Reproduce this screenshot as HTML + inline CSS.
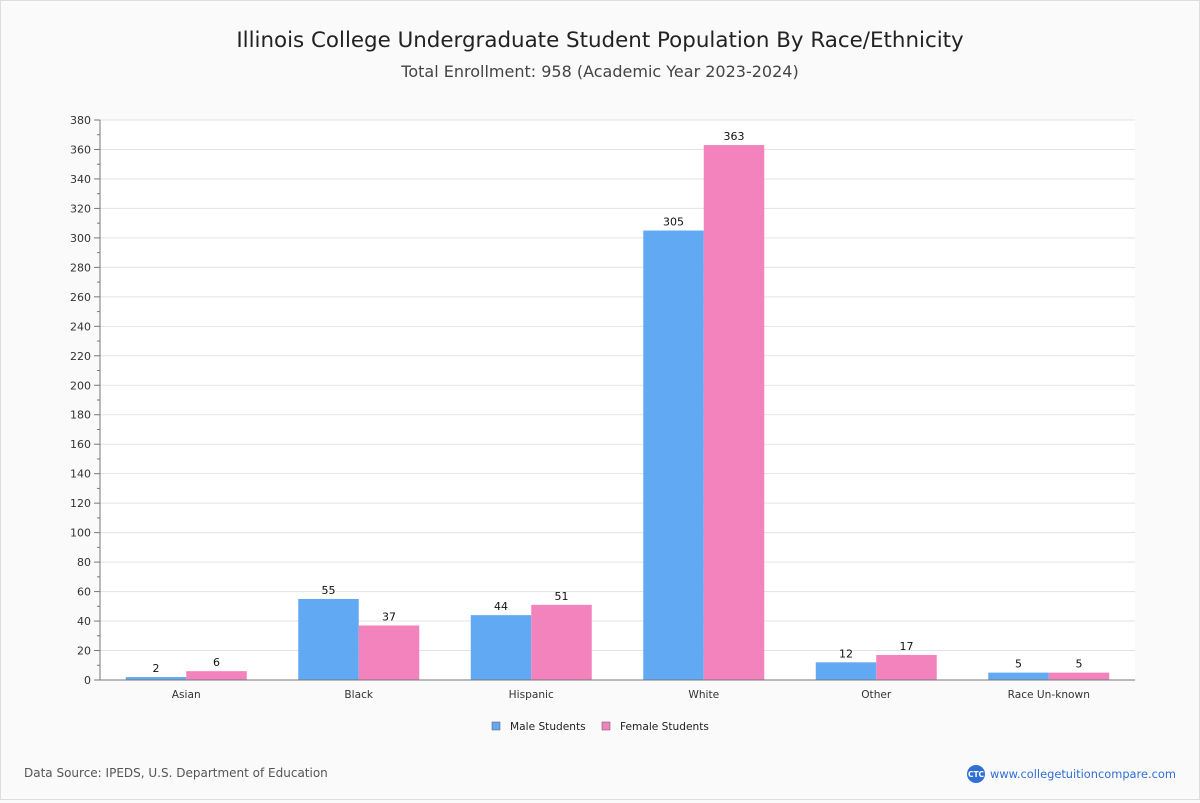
<!DOCTYPE html>
<html><head><meta charset="utf-8"><style>
body{margin:0;background:#fafafa;font-family:"DejaVu Sans","Liberation Sans",sans-serif;}
#wrap{position:relative;width:1198px;height:798px;border:1px solid #ddd;background:#fafafa;}
</style></head><body>
<div id="wrap">
<svg id="c" width="1198" height="798"></svg>
</div>
<script>
const categories=["Asian","Black","Hispanic","White","Other","Race Un-known"];
const maleValues=[2,55,44,305,12,5];
const femaleValues=[6,37,51,363,17,5];
const yTicks=[0,20,40,60,80,100,120,140,160,180,200,220,240,260,280,300,320,340,360,380];
const NS="http://www.w3.org/2000/svg";
const svg=document.getElementById('c');
const X0=99,X1=1134,Y0=679,Y1=119,YMAX=380;
const y=v=>Y0-(v/YMAX)*(Y0-Y1);
const bw=(X1-X0)/categories.length;
const xc=i=>X0+bw*(i+0.5);
function el(t,a,txt){const e=document.createElementNS(NS,t);for(const k in a)e.setAttribute(k,a[k]);if(txt!==undefined)e.textContent=txt;svg.appendChild(e);return e;}
let e;
e=el('text',{x:599,y:46,'text-anchor':'middle','font-size':21.4,fill:'#222'},'Illinois College Undergraduate Student Population By Race/Ethnicity');


e=el('text',{x:599,y:76,'text-anchor':'middle','font-size':16,fill:'#444'},'Total Enrollment: 958 (Academic Year 2023-2024)');


e=el('rect',{x:X0,y:Y1,width:X1-X0,height:Y0-Y1,fill:'#fff'});


yTicks.forEach(t=>{
 e=el('line',{x1:X0,x2:X1,y1:y(t),y2:y(t),stroke:'#e3e3e3'});
 
 
 e=el('line',{x1:X0-6,x2:X0,y1:y(t),y2:y(t),stroke:'#777'});
 
 
 if(t+10<YMAX){
 e=el('line',{x1:X0-3,x2:X0,y1:y(t+10),y2:y(t+10),stroke:'#777'});
 
 
 }
 e=el('text',{x:X0-9,y:y(t)+4,'text-anchor':'end','font-size':11,fill:'#333'},String(t));
 
 
});
e=el('line',{x1:X0,x2:X0,y1:Y1,y2:Y0,stroke:'#777'});


const barW=60.5;
categories.forEach((c,i)=>{
 const cx=xc(i);
 [[maleValues[i],'#62a9f3',cx-barW,'male-bar'],[femaleValues[i],'#f383bc',cx,'female-bar']].forEach(([v,col,x,n])=>{
  e=el('rect',{x:x,y:y(v),width:barW,height:Y0-y(v),fill:col});
  
  
  e=el('text',{x:x+barW/2,y:y(v)-5,'text-anchor':'middle','font-size':11,fill:'#111'},String(v));
  
  
 });
 e=el('text',{x:cx,y:Y0+18,'text-anchor':'middle','font-size':10.6,fill:'#333'},c);
 
 
});
e=el('line',{x1:X0,x2:X1,y1:Y0,y2:Y0,stroke:'#777'});


[['#62a9f3','Male Students',491,'legend-male'],['#f383bc','Female Students',601,'legend-female']].forEach(([col,t,x,n])=>{
 e=el('rect',{x:x,y:721,width:8,height:8,fill:col,stroke:'#555','stroke-width':0.5});
 
 
 e=el('text',{x:x+18,y:729,'font-size':10.6,fill:'#222'},t);
 
 
});
e=el('text',{x:23,y:776,'font-size':12,fill:'#555'},'Data Source: IPEDS, U.S. Department of Education');


e=el('circle',{cx:975,cy:773,r:9,fill:'#2f6fd6'});


e=el('text',{x:975,y:776,'text-anchor':'middle','font-size':7.5,fill:'#fff','font-weight':'bold'},'CTC');


e=el('text',{x:989,y:777,'font-size':11.4,fill:'#2f6fd6'},'www.collegetuitioncompare.com');


</script>
</body></html>
